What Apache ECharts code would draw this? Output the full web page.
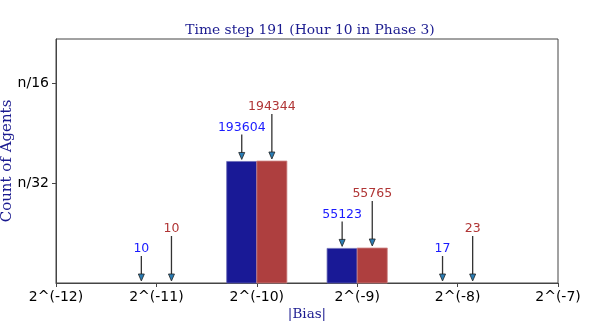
<!DOCTYPE html>
<html>
<head>
<meta charset="utf-8">
<script src="https://cdn.jsdelivr.net/npm/echarts@6/dist/echarts.min.js"></script>
<style>
  html, body { margin: 0; padding: 0; background: #fff; }
  #main { width: 598px; height: 325px; }
</style>
</head>
<body>
<div id="main"></div>
<script>
// exponents of the |Bias| bins (log2)
const binExp = [-11, -10, -9, -8];
// counts per bin for the two groups
const blueCounts = [10, 193604, 55123, 17];
const redCounts = [10, 194344, 55765, 23];
// x tick exponents
const xTicks = [-12, -11, -10, -9, -8, -7];
// total agents (estimated from the n/32, n/16 tick positions)
const nAgents = 5100000;
const yTickValues = [nAgents / 32, nAgents / 16];
const yTickLabels = ['n/32', 'n/16'];

const yMax = 2 * Math.max(...blueCounts, ...redCounts);
const halfW = 0.15;

const blueData = binExp.map((e, i) => [e, blueCounts[i]]);
const redData = binExp.map((e, i) => [e, redCounts[i]]);

function barRender(offset, fill, edge) {
    return function (params, api) {
        const x = api.value(0), v = api.value(1);
        const p0 = api.coord([x + offset - halfW, v]);
        const p1 = api.coord([x + offset + halfW, 0]);
        const h = p1[1] - p0[1];
        return {
            type: 'rect',
            shape: { x: p0[0], y: p0[1], width: p1[0] - p0[0], height: h },
            style: { fill: fill, stroke: h > 1 ? edge : null, lineWidth: 0.8 }
        };
    };
}

function arrowRender(offset, len, color) {
    return function (params, api) {
        const x = api.value(0), v = api.value(1);
        const p = api.coord([x + offset, v]);
        const tip = p[1] - 2;
        const start = p[1] - len;
        return {
            type: 'group',
            children: [
                { type: 'line', shape: { x1: p[0], y1: start, x2: p[0], y2: tip - 5 },
                  style: { stroke: '#333', lineWidth: 1.3 } },
                { type: 'polygon', shape: { points: [[p[0] - 3, tip - 7], [p[0] + 3, tip - 7], [p[0], tip]] },
                  style: { fill: '#2a7db5', stroke: '#222', lineWidth: 0.8 } },
                { type: 'text', x: p[0], y: start - 7,
                  style: { text: String(v), fill: color, font: '12.5px "DejaVu Sans"',
                           align: 'center', verticalAlign: 'middle' } }
            ]
        };
    };
}

const chart = echarts.init(document.getElementById('main'));
chart.setOption({
    animation: false,
    title: {
        text: 'Time step 191 (Hour 10 in Phase 3)',
        left: 305, top: 18, textAlign: 'center',
        textStyle: { fontFamily: 'DejaVu Serif', fontSize: 13.8, fontWeight: 'normal', color: '#1a1a8f' }
    },
    grid: { left: 56, right: 40, top: 39, bottom: 42, outerBoundsMode: 'none',
            show: true, borderColor: '#444', borderWidth: 1 },
    xAxis: {
        type: 'value', min: xTicks[0], max: xTicks[xTicks.length - 1], interval: 1,
        name: '|Bias|', nameLocation: 'middle', nameGap: 24, nameMoveOverlap: false,
        nameTextStyle: { fontFamily: 'DejaVu Serif', fontSize: 13.5, color: '#1a1a8f' },
        axisLine: { lineStyle: { color: '#444' } },
        axisTick: { show: true, length: 4, lineStyle: { color: '#444' } },
        axisLabel: { margin: 7, fontFamily: 'DejaVu Sans', fontSize: 14, color: '#000',
                     formatter: v => '2^(' + v + ')' },
        splitLine: { show: false }
    },
    yAxis: {
        type: 'value', min: 0, max: yMax,
        name: 'Count of Agents', nameLocation: 'middle', nameGap: 41, nameMoveOverlap: false,
        nameTextStyle: { fontFamily: 'DejaVu Serif', fontSize: 15, color: '#1a1a8f' },
        axisLine: { show: true, lineStyle: { color: '#444' } },
        axisTick: { show: true, length: 4, customValues: yTickValues, lineStyle: { color: '#444' } },
        axisLabel: { margin: 7, fontFamily: 'DejaVu Sans', fontSize: 14, color: '#000',
                     customValues: yTickValues,
                     formatter: v => yTickLabels[yTickValues.findIndex(t => Math.abs(t - v) < 1)] || '' },
        splitLine: { show: false }
    },
    series: [
        { type: 'custom', data: blueData, renderItem: barRender(-halfW, 'rgba(0,0,139,0.9)', '#6a6ab8') },
        { type: 'custom', data: redData, renderItem: barRender(halfW, 'rgba(165,42,42,0.9)', '#d08a8a') },
        { type: 'custom', data: blueData, renderItem: arrowRender(-halfW, 27, '#1a1aff'), z: 5 },
        { type: 'custom', data: redData, renderItem: arrowRender(halfW, 47, '#b03535'), z: 5 }
    ]
});
</script>
</body>
</html>
